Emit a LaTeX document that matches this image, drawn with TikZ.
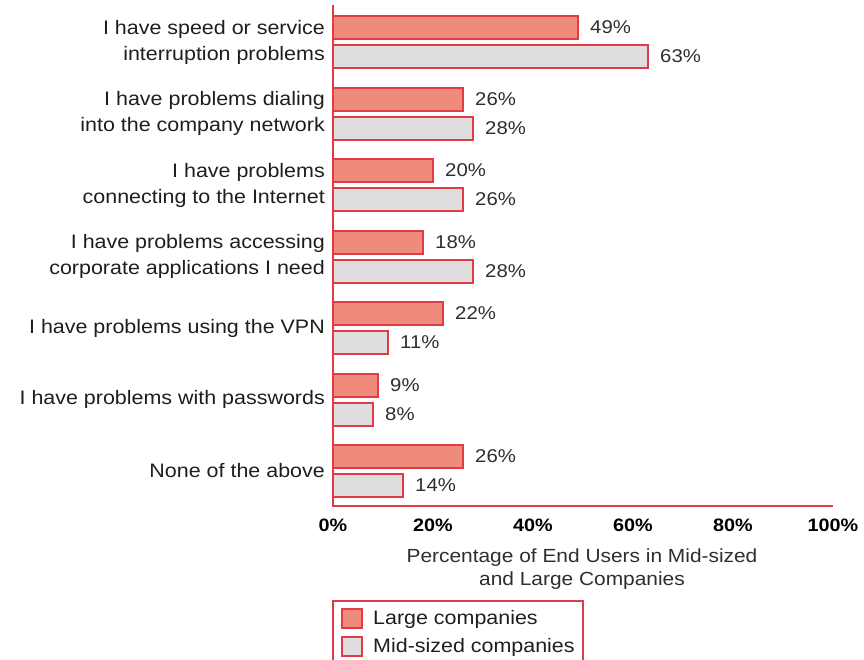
\documentclass[tikz,border=0pt]{standalone}
\usepackage{fontspec}
\setmainfont{Liberation Sans}[FakeStretch=1.1]
\definecolor{barred}{HTML}{E23B45}
\definecolor{largefill}{HTML}{EE8B7B}
\definecolor{midfill}{HTML}{DEDEDE}
\definecolor{txtdark}{HTML}{1E1E1E}
\definecolor{txtgray}{HTML}{2E2E2E}
\tikzset{
  catlabel/.style={anchor=east, align=right, font=\fontsize{19.5}{26}\selectfont, text=txtdark, inner sep=0pt},
  vallabel/.style={anchor=west, font=\fontsize{18.5}{22}\selectfont, text=txtgray, inner sep=0pt},
  ticklabel/.style={anchor=center, font=\bfseries\fontsize{18}{22}\selectfont, text=black, inner sep=0pt},
  titlelabel/.style={anchor=base, align=center, font=\fontsize{19}{23}\selectfont, text=txtgray, inner sep=0pt},
  legendlabel/.style={anchor=west, font=\fontsize{19.5}{23}\selectfont, text=txtdark, inner sep=0pt},
  largebar/.style={draw=barred, fill=largefill, line width=2pt},
  midbar/.style={draw=barred, fill=midfill, line width=2pt},
  axisline/.style={draw=barred, line width=2pt},
  legendbox/.style={draw=barred, line width=1.3pt},
}
\begin{document}
\begin{tikzpicture}[x=1pt,y=-1pt]
\useasboundingbox (0,0) rectangle (864,659);
\clip (0,0) rectangle (864,659);
% bars
\foreach \i/\lv/\mv/\txt in {
  0/49/63/{I have speed or service\\interruption problems},
  1/26/28/{I have problems dialing\\into the company network},
  2/20/26/{I have problems\\connecting to the Internet},
  3/18/28/{I have problems accessing\\corporate applications I need},
  4/22/11/{I have problems using the VPN},
  5/9/8/{I have problems with passwords},
  6/26/14/{None of the above}}{
  \pgfmathsetmacro{\yo}{71.5*\i}
  \path[largebar] (333,16+\yo) rectangle (333+5*\lv,39+\yo);
  \path[midbar] (333,45+\yo) rectangle (333+5*\mv,68+\yo);
  \node[vallabel] (lv\i) at (333+5*\lv+12,27.5+\yo) {\lv\%};
  \node[vallabel] (mv\i) at (333+5*\mv+12,56.5+\yo) {\mv\%};
  \node[catlabel] (cat\i) at (325,42+\yo) {\txt};
}
% axes
\coordinate (axtop) at (333,5);
\coordinate (origin) at (333,506);
\coordinate (axend) at (833,506);
\draw[axisline] (axtop) -- (origin) -- (axend);
\foreach \k in {0,20,40,60,80,100}{
  \node[ticklabel] (tick\k) at (333+5*\k,525) {\k\%};
}
\node[titlelabel] (title) at (582,585) {Percentage of End Users in Mid-sized\\and Large Companies};
% legend
\draw[legendbox] (333,601) rectangle (583,680);
\path[largebar] (342,609) rectangle (362,628);
\path[midbar] (342,637) rectangle (362,656);
\node[legendlabel] (leglarge) at (373,619) {Large companies};
\node[legendlabel] (legmid) at (373,647) {Mid-sized companies};
\end{tikzpicture}
\end{document}
